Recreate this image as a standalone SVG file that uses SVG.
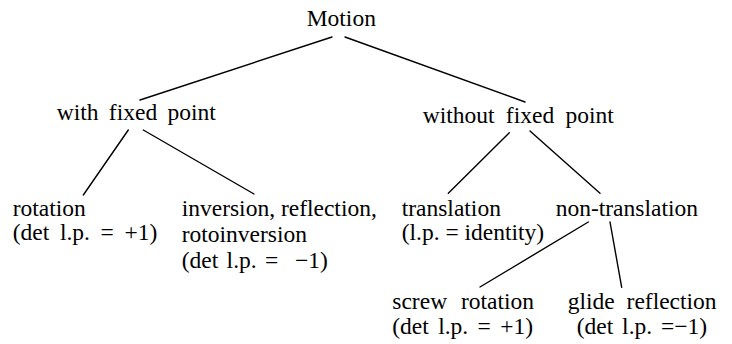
<svg xmlns="http://www.w3.org/2000/svg" width="732" height="344" viewBox="0 0 732 344">
<style>
text{font-family:"Liberation Serif","Times New Roman",serif;font-size:23.5px;fill:#000}
.c line{stroke:#000;stroke-width:1.4;stroke-linecap:round}
</style>
<rect width="732" height="344" fill="#fff"/>
<g class="c" id="connectors">
<line x1="332" y1="37" x2="140" y2="100"/>
<line x1="345" y1="37" x2="525" y2="102"/>
<line x1="128.3" y1="130" x2="83.3" y2="195"/>
<line x1="143.3" y1="130" x2="254" y2="194"/>
<line x1="509.3" y1="132.7" x2="448.3" y2="193.3"/>
<line x1="530" y1="131" x2="600" y2="193.3"/>
<line x1="588.3" y1="222" x2="480" y2="287"/>
<line x1="610" y1="222" x2="621.7" y2="287.3"/>
</g>
<g id="motion"><text x="306.7" y="26">Motion</text></g>
<g id="with-fixed-point"><text x="56.7" y="120" word-spacing="4.5">with fixed point</text></g>
<g id="without-fixed-point"><text x="422.7" y="123" word-spacing="5.5">without fixed point</text></g>
<g id="rotation">
<text x="12.7" y="216">rotation</text>
<text x="12.7" y="240" word-spacing="4.8">(det l.p. = +1)</text>
</g>
<g id="inversion">
<text x="181.7" y="216">inversion, reflection,</text>
<text x="181.7" y="241.5">rotoinversion</text>
<text x="181.7" y="267.5" word-spacing="2.5" xml:space="preserve">(det l.p. =  −1)</text>
</g>
<g id="translation">
<text x="401.7" y="216">translation</text>
<text x="401.7" y="240">(l.p. = identity)</text>
</g>
<g id="non-translation"><text x="555.7" y="216">non-translation</text></g>
<g id="screw-rotation">
<text x="392.3" y="309" word-spacing="8">screw rotation</text>
<text x="392.3" y="333.5" word-spacing="3.5">(det l.p. = +1)</text>
</g>
<g id="glide-reflection">
<text x="567.7" y="309" word-spacing="6">glide reflection</text>
<text x="576.7" y="333.5" word-spacing="3">(det l.p. =−1)</text>
</g>
</svg>
